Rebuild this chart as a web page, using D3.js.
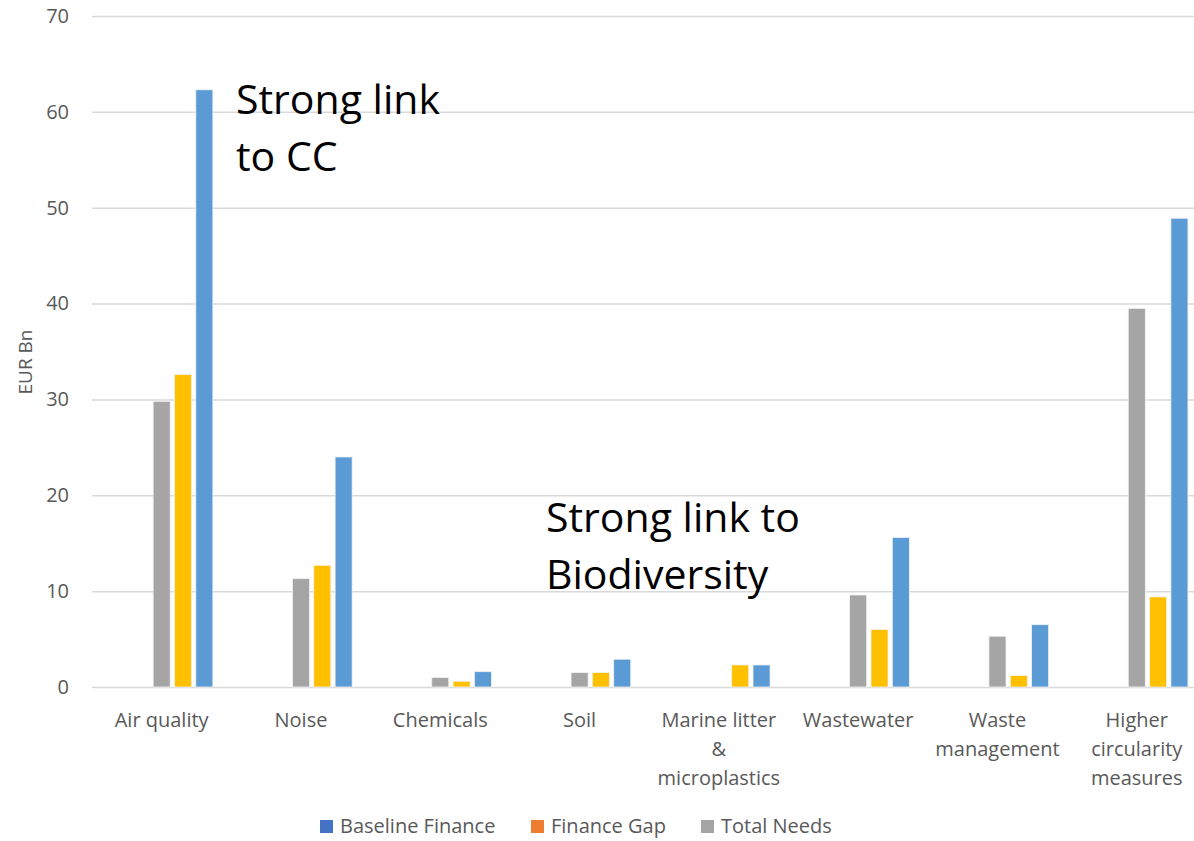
<!DOCTYPE html>
<meta charset="utf-8">
<head>
    <script src="https://cdn.jsdelivr.net/npm/d3@7"></script>
    <style>
        body { margin: 0; background: #ffffff; }
        svg { display: block; font-family: "Open Sans", sans-serif; }
    </style>
</head>
<body>
    <svg width=1194 height=841></svg>
</body>
<script>
    // categories and tick labels (lines as drawn under each group)
    let categories = ["Air quality", "Noise", "Chemicals", "Soil", "Marine litter & microplastics",
        "Wastewater", "Waste management", "Higher circularity measures"];
    let categoryLines = [["Air quality"], ["Noise"], ["Chemicals"], ["Soil"],
        ["Marine litter", "&", "microplastics"], ["Wastewater"], ["Waste", "management"],
        ["Higher", "circularity", "measures"]];

    // series values, EUR Bn
    let totalNeeds = [29.8, 11.3, 1.0, 1.5, 0, 9.6, 5.3, 39.5];
    let financeGap = [32.6, 12.7, 0.6, 1.5, 2.3, 6.0, 1.2, 9.4];
    let baselineFinance = [62.3, 24.0, 1.6, 2.9, 2.3, 15.6, 6.5, 48.9];

    let yTicks = [0, 10, 20, 30, 40, 50, 60, 70];

    let legendLabels = ["Baseline Finance", "Finance Gap", "Total Needs"];

    let plotLeft = 92, plotTop = 16, plotBottom = 687, plotRight = 1206.4;

    let series = [
        { key: "Total Needs", values: totalNeeds, color: "#a5a5a5" },
        { key: "Finance Gap", values: financeGap, color: "#ffc000" },
        { key: "Baseline Finance", values: baselineFinance, color: "#5b9bd5" }
    ];

    let x = d3.scaleBand().domain(categories).range([plotLeft, plotRight]);
    let xSub = d3.scaleBand().domain(series.map(s => s.key))
        .range([59, 123]).paddingInner(0.2).paddingOuter(0.1);
    let y = d3.scaleLinear().domain([0, 70]).range([plotBottom, plotTop]);

    let svg = d3.select("svg");

    // gridlines + y tick labels
    let yAxis = d3.axisLeft(y).tickValues(yTicks).tickSize(-(1194 - plotLeft)).tickPadding(23);
    svg.append("g")
        .attr("transform", `translate(${plotLeft},0)`)
        .call(yAxis)
        .call(g => g.select(".domain").remove())
        .call(g => g.selectAll(".tick line").attr("stroke", "#d9d9d9").attr("stroke-width", 1.5))
        .call(g => g.selectAll(".tick text")
            .attr("fill", "#595959")
            .attr("font-size", 20)
            .attr("font-family", "Open Sans, sans-serif"));

    // bars
    series.forEach(function (s) {
        let rows = s.values.map((v, i) => ({ cat: categories[i], value: v })).filter(d => d.value > 0);
        svg.append("g").selectAll("rect")
            .data(rows)
            .enter()
            .append("rect")
            .attr("x", d => x(d.cat) + xSub(s.key))
            .attr("y", d => y(d.value))
            .attr("width", xSub.bandwidth())
            .attr("height", d => y(0) - y(d.value))
            .attr("fill", s.color)
            .attr("stroke", "#f2f2f2")
            .attr("stroke-width", 0.8);
    });

    // x axis labels
    let xAxis = d3.axisBottom(x).tickSize(0).tickFormat("");
    let xg = svg.append("g")
        .attr("transform", `translate(0,${plotBottom})`)
        .call(xAxis);
    xg.select(".domain").remove();
    xg.selectAll(".tick").each(function (d, i) {
        let t = d3.select(this).append("text")
            .attr("fill", "#595959")
            .attr("font-size", 20)
            .attr("font-family", "Open Sans, sans-serif")
            .attr("text-anchor", "middle")
            .attr("y", 40);
        categoryLines[i].forEach((line, j) => {
            t.append("tspan").attr("x", 0).attr("dy", j === 0 ? 0 : 29).text(line);
        });
    });

    // y axis title
    svg.append("text")
        .attr("transform", "translate(32,362) rotate(-90)")
        .attr("text-anchor", "middle")
        .attr("fill", "#595959")
        .attr("font-size", 19)
        .text("EUR Bn");

    // annotations
    let notes = [
        { x: 236, y: 114, lines: ["Strong link", "to CC"] },
        { x: 546, y: 532, lines: ["Strong link to", "Biodiversity"] }
    ];
    notes.forEach(function (n) {
        let t = svg.append("text")
            .attr("x", n.x).attr("y", n.y)
            .attr("font-size", 41)
            .attr("fill", "#000000");
        n.lines.forEach((line, j) => {
            t.append("tspan").attr("x", n.x).attr("dy", j === 0 ? 0 : 57).text(line);
        });
    });

    // legend
    let legendColors = ["#4472c4", "#ed7d31", "#a5a5a5"];
    let legendX = [320, 531, 701];
    let legend = svg.append("g").selectAll("g")
        .data(legendLabels)
        .enter()
        .append("g")
        .attr("transform", (d, i) => `translate(${legendX[i]},820)`);
    legend.append("rect")
        .attr("width", 13).attr("height", 13)
        .attr("fill", (d, i) => legendColors[i]);
    legend.append("text")
        .attr("x", 20).attr("y", 13)
        .attr("font-size", 20)
        .attr("fill", "#595959")
        .text(d => d);
</script>
